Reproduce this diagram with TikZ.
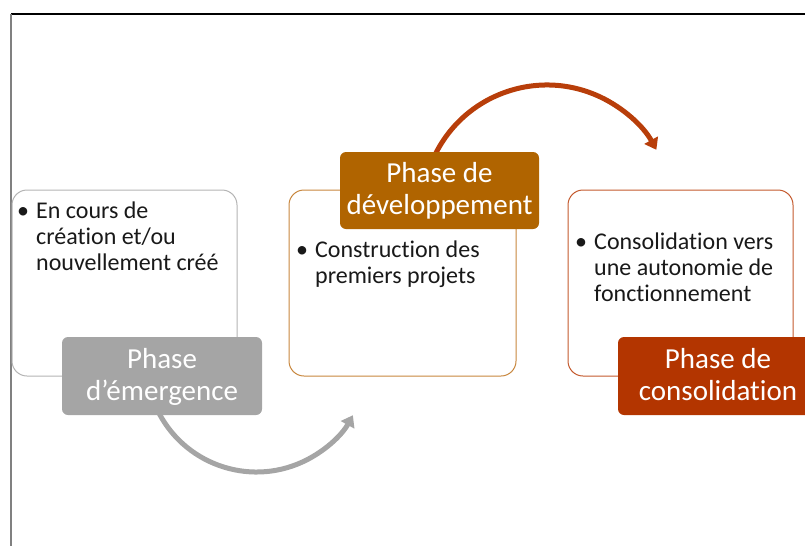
\documentclass[tikz,border=0pt]{standalone}
\usepackage{fontspec}
\setmainfont{Carlito}[RawFeature={-liga;-clig;-calt;-dlig}]
\usetikzlibrary{arrows.meta}
\definecolor{grayc}{HTML}{A5A5A5}
\definecolor{grayline}{HTML}{B4B4B4}
\definecolor{framegray}{HTML}{808080}
\definecolor{orangec}{HTML}{B06400}
\definecolor{orangeline}{HTML}{C8873E}
\definecolor{redc}{HTML}{B33500}
\definecolor{redline}{HTML}{C45A2E}
\definecolor{arcred}{HTML}{B83E0A}
\newcommand{\tallstrut}{\rule{0pt}{26.4pt}}
\tikzset{
  bigbox/.style={rectangle, rounded corners=15pt, fill=white, line width=1pt, inner sep=0pt, outer sep=0pt},
  labelbox/.style={rectangle, rounded corners=6pt, inner sep=0pt, outer sep=0pt,
     minimum height=78pt, text=white, align=center, font=\fontsize{29}{32}\selectfont},
  bodytext/.style={anchor=base west, inner sep=0pt, text=black!90, font=\fontsize{24}{26}\selectfont},
  bulletmark/.style={anchor=base west, inner sep=0pt, text=black!90, font=\fontsize{24}{26}\selectfont},
  arcarrow/.style={line width=5pt, -{Triangle[width=15pt,length=11pt]}}
}
\begin{document}
\begin{tikzpicture}[x=1pt,y=-1pt]
\useasboundingbox (0,0) rectangle (805,546);
\clip (0,0) rectangle (805,546);
% frame
\coordinate (f0) at (11,14);
\coordinate (f1) at (805,14);
\coordinate (f2) at (11,546);
\draw[black, line width=1.3pt] (f0) -- (f1);
\draw[framegray, line width=2pt] (f0) -- (f2);
% arcs (drawn first, under the label boxes)
\path (256.5,361.8) ++(155:110.2) coordinate (a1s);
\draw[arcarrow, grayc] (a1s) arc[start angle=155, end angle=29, radius=110.2];
\path (547,209.7) ++(205:124.7) coordinate (a2s);
\draw[arcarrow, arcred] (a2s) arc[start angle=205, end angle=331.3, radius=124.7];
% content boxes
\node[bigbox, draw=grayline, minimum width=225pt, minimum height=186pt] (b1) at (124.5,283) {};
\node[bigbox, draw=orangeline, minimum width=227pt, minimum height=186pt] (b2) at (402.5,283) {};
\node[bigbox, draw=redline, minimum width=225pt, minimum height=186pt] (b3) at (680.5,283) {};
% body text
\node[bulletmark] (p1) at (17,218) {•};
\node[bodytext] (t1) at (36,218) {\parbox[t]{200pt}{\raggedright En cours de\\création et/ou\\nouvellement créé}};
\node[bulletmark] (p2) at (296,257) {•};
\node[bodytext] (t2) at (315,257) {\parbox[t]{200pt}{\raggedright Construction des\\premiers projets}};
\node[bulletmark] (p3) at (575,249) {•};
\node[bodytext] (t3) at (594,249) {\parbox[t]{200pt}{\raggedright Consolidation vers\\une autonomie de\\fonctionnement}};
% label boxes
\node[labelbox, fill=grayc, minimum width=200pt] (l1) at (162,376) {\tallstrut\strut Phase\\\strut d’émergence};
\node[labelbox, fill=orangec, minimum width=199pt, minimum height=77pt] (l2) at (439.5,190.5) {\tallstrut\strut Phase de\\\strut développement};
\node[labelbox, fill=redc, minimum width=200pt] (l3) at (718,376) {\tallstrut\strut Phase de\\\strut consolidation};
\end{tikzpicture}
\end{document}
